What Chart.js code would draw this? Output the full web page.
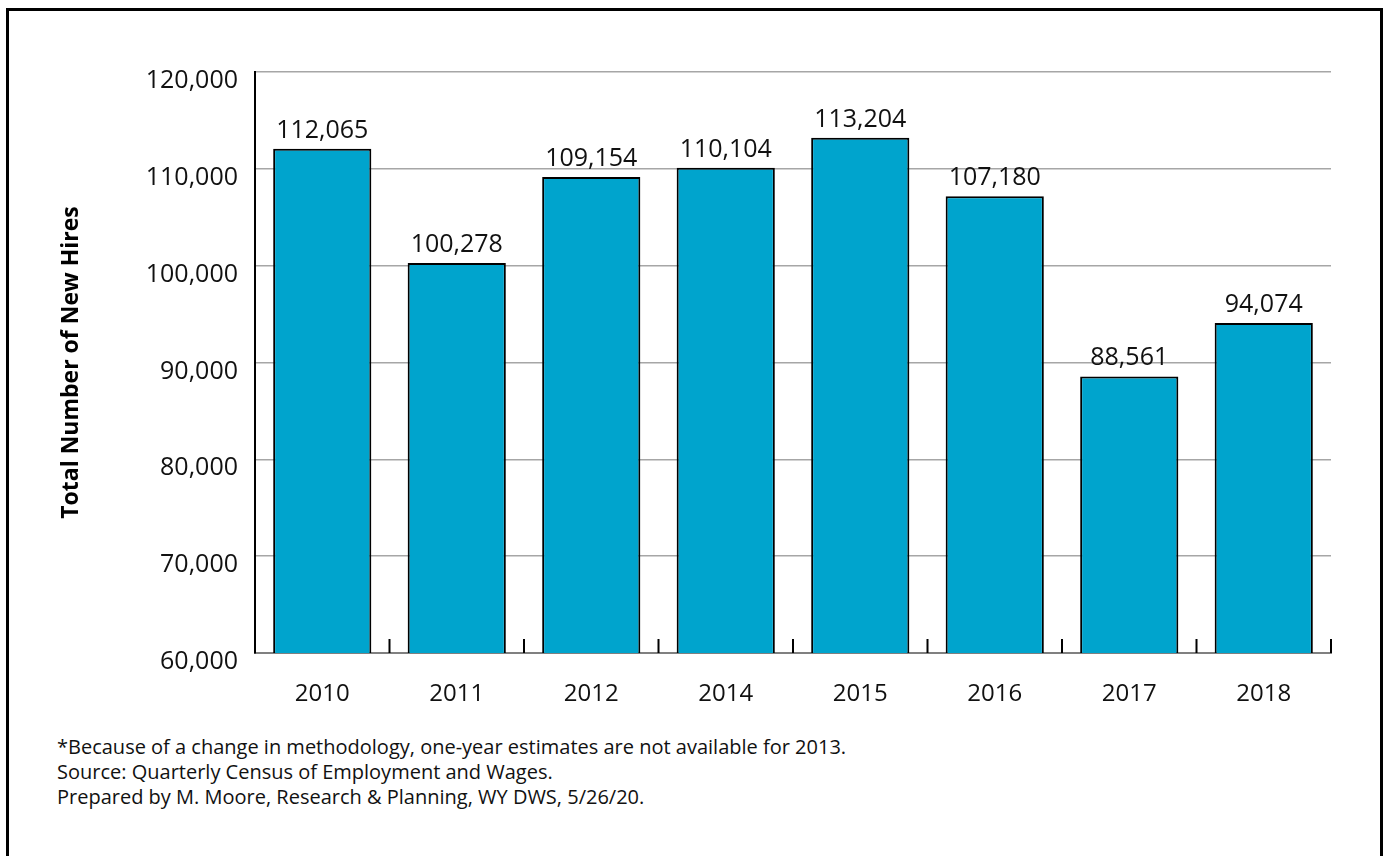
<!DOCTYPE html>
<html lang="en">
<head>
  <meta charset="UTF-8">
  <title>Total Number of New Hires</title>
  <script src="https://cdn.jsdelivr.net/npm/chart.js"></script>
  <style>
    body {
      margin: 0;
      width: 1387px;
      height: 856px;
      overflow: hidden;
      background: #fff;
      font-family: "Open Sans", Arial, sans-serif;
      position: relative;
    }
    #frame {
      position: absolute;
      left: 6px;
      top: 8px;
      width: 1377px;
      height: 900px;
      border: 3px solid #000;
      box-sizing: border-box;
    }
    #chart-box {
      position: absolute;
      left: 0;
      top: 0;
      width: 1387px;
      height: 720px;
    }
    #notes {
      position: absolute;
      left: 57px;
      top: 734px;
      font-size: 20px;
      line-height: 25px;
      color: #111;
    }
  </style>
</head>
<body>
  <div id="frame"></div>
  <div id="chart-box">
    <canvas id="myChart"></canvas>
  </div>
  <div id="notes">
    <div>*Because of a change in methodology, one-year estimates are not available for 2013.</div>
    <div>Source: Quarterly Census of Employment and Wages.</div>
    <div>Prepared by M. Moore, Research &amp; Planning, WY DWS, 5/26/20.</div>
  </div>

  <script>
    // Years shown (2013 has no one-year estimate)
    const years = ['2010', '2011', '2012', '2014', '2015', '2016', '2017', '2018'];
    // Total new hires per year
    const newHires = [112065, 100278, 109154, 110104, 113204, 107180, 88561, 94074];
    // Y axis range and step
    const yMin = 60000;
    const yMax = 120000;
    const yStep = 10000;

    const fmt = v => v.toLocaleString('en-US');

    // Value labels above each bar
    const barLabels = {
      id: 'barLabels',
      afterDatasetsDraw(chart) {
        const ctx = chart.ctx;
        const meta = chart.getDatasetMeta(0);
        ctx.save();
        ctx.font = '25px "Open Sans"';
        ctx.fillStyle = '#111';
        ctx.textAlign = 'center';
        ctx.textBaseline = 'alphabetic';
        meta.data.forEach((bar, i) => {
          ctx.fillText(fmt(newHires[i]), bar.x, bar.y - 11);
        });
        ctx.restore();
      }
    };

    // Short tick marks between categories, pointing up from the x axis
    const innerTicks = {
      id: 'innerTicks',
      afterDatasetsDraw(chart) {
        const ctx = chart.ctx;
        const x = chart.scales.x;
        const n = years.length;
        ctx.save();
        ctx.strokeStyle = '#000';
        ctx.lineWidth = 2;
        for (let i = 1; i <= n; i++) {
          const px = i === n ? x.right : (x.getPixelForValue(i - 1) + x.getPixelForValue(i)) / 2;
          ctx.beginPath();
          ctx.moveTo(px, x.top);
          ctx.lineTo(px, x.top - 14);
          ctx.stroke();
        }
        ctx.restore();
      }
    };

    const ctx = document.getElementById('myChart').getContext('2d');
    new Chart(ctx, {
      type: 'bar',
      data: {
        labels: years,
        datasets: [{
          label: 'New Hires',
          data: newHires,
          backgroundColor: '#00a4cd',
          borderColor: '#000',
          borderWidth: 2,
          borderSkipped: false,
          barPercentage: 0.73,
          categoryPercentage: 1.0
        }]
      },
      options: {
        responsive: true,
        maintainAspectRatio: false,
        animation: false,
        layout: {
          padding: { left: 0, top: 72, right: 56, bottom: 0 }
        },
        plugins: {
          legend: { display: false },
          tooltip: { enabled: false }
        },
        scales: {
          x: {
            grid: { display: false },
            border: { display: true, color: '#808080', width: 2 },
            ticks: {
              color: '#111',
              font: { family: '"Open Sans"', size: 24 },
              padding: 19
            },
            afterFit(scale) { scale.height = 67; }
          },
          y: {
            min: yMin,
            max: yMax,
            grid: {
              color: '#a6a6a6',
              lineWidth: 1.5,
              drawTicks: false
            },
            border: { display: true, color: '#000', width: 2 },
            ticks: {
              stepSize: yStep,
              color: '#111',
              font: { family: '"Open Sans"', size: 25 },
              padding: 17,
              labelOffset: 9,
              callback: v => fmt(v)
            },
            title: {
              display: true,
              text: 'Total Number of New Hires',
              color: '#000',
              font: { family: '"Open Sans"', size: 23, weight: 'bold' },
              padding: { top: 58, bottom: 0 }
            },
            afterFit(scale) { scale.width = 255; }
          }
        }
      },
      plugins: [barLabels, innerTicks]
    });
  </script>
</body>
</html>
